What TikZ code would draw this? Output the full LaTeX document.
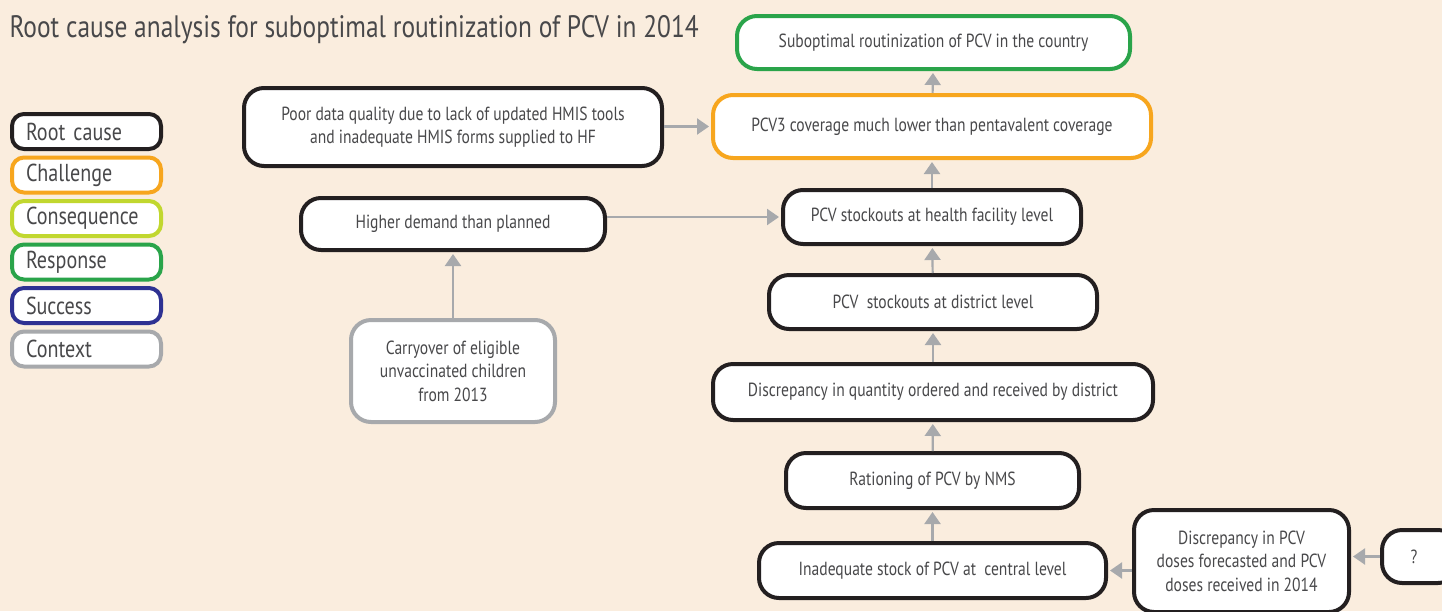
\documentclass[tikz,border=0pt]{standalone}
\usepackage{fontspec}
\setmainfont{PT Sans}[FakeStretch=0.82]
\usetikzlibrary{positioning,arrows.meta}
\definecolor{bgbeige}{RGB}{250,237,222}
\definecolor{txtgray}{RGB}{72,72,74}
\definecolor{rootc}{RGB}{35,31,32}
\definecolor{challc}{RGB}{247,166,30}
\definecolor{consc}{RGB}{193,215,47}
\definecolor{respc}{RGB}{42,164,74}
\definecolor{succc}{RGB}{46,49,146}
\definecolor{ctxc}{RGB}{167,169,172}
\tikzset{
x=1pt, y=-1pt,
>={Triangle[width=16pt,length=12pt]},
box/.style={draw=rootc, fill=white, line width=4pt, rounded corners=20pt,
  align=center, text=txtgray, font=\fontsize{19}{23.5}\selectfont, inner sep=0pt},
rootbox/.style={box, draw=rootc},
challbox/.style={box, draw=challc},
respbox/.style={box, draw=respc},
ctxbox/.style={box, draw=ctxc},
key/.style={draw, fill=white, line width=4pt, rounded corners=12pt,
  minimum width=149pt, minimum height=35pt, text width=121pt, align=left,
  text=txtgray, font=\fontsize{24.5}{27}\selectfont, inner sep=0pt},
link/.style={->, draw=ctxc, line width=2.2pt, shorten >=2pt},
}

\begin{document}
\begin{tikzpicture}
  \useasboundingbox (0,0) rectangle (1442,611);
  \clip (0,0) rectangle (1442,611);
  \fill[bgbeige] (0,0) rectangle (1442,611);

  % title
  \node[anchor=west, text=txtgray, font=\fontsize{31}{34}\selectfont] (title) at (6,30)
    {Root cause analysis for suboptimal routinization of PCV in 2014};

  % legend
  \node[key, draw=rootc] (kroot) at (86.5,131.5) {Root cause};
  \node[key, draw=challc, below=4.5pt of kroot] (kchall) {Challenge};
  \node[key, draw=consc, below=4.5pt of kchall] (kcons) {Consequence};
  \node[key, draw=respc, below=4.5pt of kcons] (kresp) {Response};
  \node[key, draw=succc, below=4.5pt of kresp] (ksucc) {Success};
  \node[key, draw=ctxc, below=4.5pt of ksucc] (kctx) {Context};

  % main chain
  \node[respbox, minimum width=393pt, minimum height=53pt] (subopt) at (933.5,42.5)
    {Suboptimal routinization of PCV in the country};
  \node[challbox, minimum width=438pt, minimum height=63pt] (cover) at (932,126.5)
    {PCV3 coverage much lower than pentavalent coverage};
  \node[rootbox, minimum width=298pt, minimum height=54pt] (hfout) at (932,217)
    {PCV stockouts at health facility level};
  \node[rootbox, minimum width=328pt, minimum height=54pt] (distout) at (933,302)
    {PCV~ stockouts at district level};
  \node[rootbox, minimum width=440pt, minimum height=56pt] (qty) at (933,392)
    {Discrepancy in quantity ordered and received by district};
  \node[rootbox, minimum width=293pt, minimum height=55pt] (ration) at (932.5,480.5)
    {Rationing of PCV by NMS};
  \node[rootbox, minimum width=347pt, minimum height=55pt] (central) at (932.5,570.5)
    {Inadequate stock of PCV at~ central level};
  \node[rootbox, minimum width=215pt, minimum height=102pt] (forecast) at (1241.5,561)
    {Discrepancy in PCV\\doses forecasted and PCV\\doses received in 2014};
  \node[rootbox, minimum width=76pt, minimum height=53pt] (unknown) at (1420,556.5)
    {\hspace*{-12pt}?};

  % left side
  \node[rootbox, minimum width=418pt, minimum height=78pt] (hmis) at (453,127)
    {Poor data quality due to lack of updated HMIS tools\\and inadequate HMIS forms supplied to HF};
  \node[rootbox, minimum width=304pt, minimum height=52pt] (demand) at (453,224)
    {Higher demand than planned};
  \node[ctxbox, minimum width=204pt, minimum height=102pt] (carry) at (453,371)
    {Carryover of eligible\\unvaccinated children\\from 2013};

  \draw[link] (cover) -- (subopt);
  \draw[link] (hfout) -- (cover);
  \draw[link] (distout) -- (hfout);
  \draw[link] (qty) -- (distout);
  \draw[link] (ration) -- (qty);
  \draw[link] (central) -- (ration);
  \draw[link] (forecast.west |- central) -- (central);
  \draw[link] (unknown) -- (forecast.east |- unknown);
  \draw[link] (hmis.east |- cover) -- (cover);
  \draw[link] (demand.east |- hfout) -- (hfout);
  \draw[link] (carry) -- (demand);
\end{tikzpicture}
\end{document}
